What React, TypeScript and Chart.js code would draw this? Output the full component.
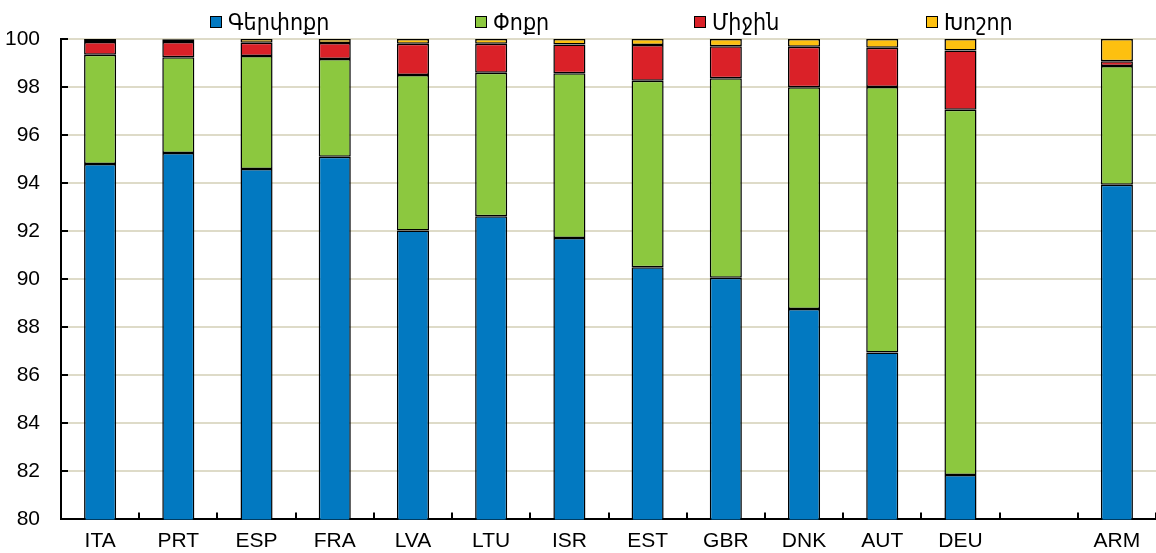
import React, { useEffect, useRef } from "react";
import { Chart, registerables } from "chart.js";

Chart.register(...registerables);

// ---- data ----
const categories = ["ITA", "PRT", "ESP", "FRA", "LVA", "LTU", "ISR", "EST", "GBR", "DNK", "AUT", "DEU", "", "ARM"];
const seriesNames = ["Գերփոքր", "Փոքր", "Միջին", "Խոշոր"];
const microValues = [94.8, 95.25, 94.59, 95.1, 92.03, 92.62, 91.72, 90.5, 90.06, 88.76, 86.95, 81.85, null, 93.93];
const smallValues = [4.54, 3.99, 4.7, 4.07, 6.47, 5.98, 6.85, 7.76, 8.31, 9.23, 11.05, 15.2, null, 4.95];
const mediumValues = [0.53, 0.63, 0.55, 0.66, 1.3, 1.2, 1.2, 1.49, 1.33, 1.69, 1.64, 2.47, null, 0.19];
const largeValues = [0.13, 0.12, 0.16, 0.17, 0.2, 0.2, 0.23, 0.25, 0.3, 0.32, 0.36, 0.48, null, 0.93];
const yMin = 80;
const yMax = 100;
const yStep = 2;

// ---- styles ----
const colors = ["#0279c1", "#8cc83f", "#da2128", "#fdc010"];
const legendLeft = [210, 475, 694, 926];
const FONT = "'Liberation Sans', Arial, 'DejaVu Sans Condensed', 'DejaVu Sans', sans-serif";

const inwardTicks = {
  id: "inwardTicks",
  afterDatasetsDraw(chart: any) {
    const { ctx, chartArea, scales } = chart;
    const { left, right, bottom } = chartArea;
    const x = scales.x;
    const y = scales.y;
    ctx.save();
    ctx.strokeStyle = "#000";
    ctx.lineWidth = 2;
    y.ticks.forEach((t: any) => {
      const py = Math.round(y.getPixelForValue(t.value));
      ctx.beginPath();
      ctx.moveTo(left, py);
      ctx.lineTo(left + 7, py);
      ctx.stroke();
    });
    const n = x.ticks.length;
    const step = (right - left) / n;
    for (let i = 0; i <= n; i++) {
      const px = Math.round(left + i * step);
      ctx.beginPath();
      ctx.moveTo(px, bottom);
      ctx.lineTo(px, bottom - 7);
      ctx.stroke();
    }
    ctx.restore();
  },
};

export default function App() {
  const canvasRef = useRef<HTMLCanvasElement | null>(null);

  useEffect(() => {
    const canvas = canvasRef.current;
    if (!canvas) return;
    const valueSets = [microValues, smallValues, mediumValues, largeValues];
    const chart = new Chart(canvas, {
      type: "bar",
      data: {
        labels: categories,
        datasets: seriesNames.map((name, i) => ({
          label: name,
          data: valueSets[i] as any,
          backgroundColor: colors[i],
          borderColor: "#000",
          borderWidth: 1.5,
          borderSkipped: false,
          categoryPercentage: 1,
          barPercentage: 0.41,
        })),
      },
      options: {
        animation: false,
        responsive: true,
        maintainAspectRatio: false,
        layout: { padding: { top: 39, left: 0, right: 0, bottom: 0 } },
        plugins: {
          legend: { display: false },
          tooltip: { enabled: false },
        },
        scales: {
          x: {
            stacked: true,
            grid: { display: false, drawTicks: false },
            border: { display: true, color: "#000", width: 2 },
            ticks: {
              color: "#000",
              font: { family: FONT, size: 21 },
              padding: 9,
              maxRotation: 0,
              autoSkip: false,
            },
            afterFit(scale: any) {
              scale.height = 33;
            },
          },
          y: {
            stacked: true,
            min: yMin,
            max: yMax,
            grid: { color: "#dedbc8", lineWidth: 2, drawTicks: false },
            border: { display: true, color: "#000", width: 2 },
            ticks: {
              stepSize: yStep,
              color: "#000",
              font: { family: FONT, size: 21 },
              padding: 21,
            },
            afterFit(scale: any) {
              scale.width = 61;
            },
          },
        },
      },
      plugins: [inwardTicks],
    });
    return () => chart.destroy();
  }, []);

  return (
    <div style={{ position: "absolute", left: 0, top: 0, width: 1156, height: 553, background: "#fff" }}>
      <canvas ref={canvasRef} />
      {seriesNames.map((name, i) => (
        <div
          key={name}
          style={{
            position: "absolute",
            left: legendLeft[i],
            top: 8,
            height: 28,
            display: "flex",
            alignItems: "center",
            fontFamily: FONT,
            fontSize: 23,
            color: "#000",
            whiteSpace: "nowrap",
          }}
        >
          <span
            style={{
              display: "inline-block",
              width: 10,
              height: 10,
              background: colors[i],
              border: "1px solid #000",
              marginRight: 6,
            }}
          />
          <span>{name}</span>
        </div>
      ))}
    </div>
  );
}
